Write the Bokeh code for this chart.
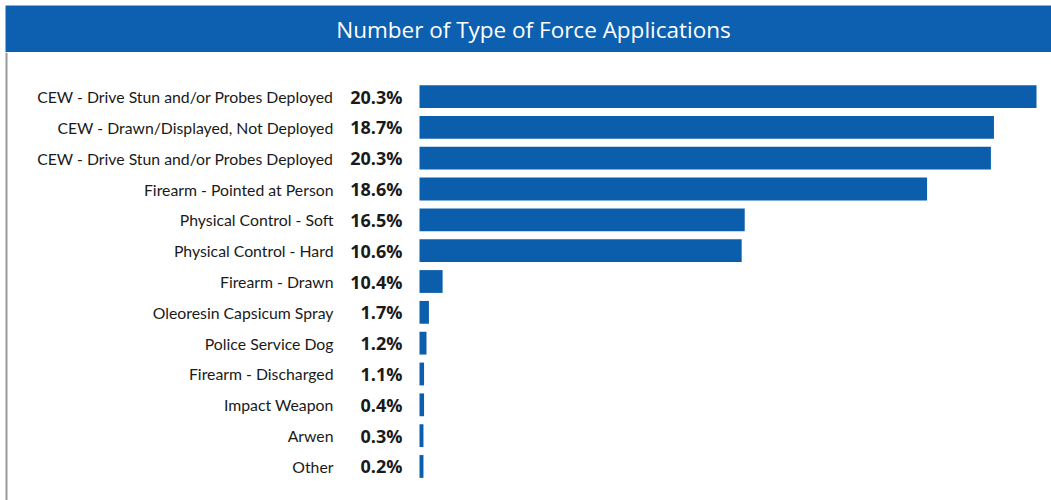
from bokeh.plotting import figure
from bokeh.models import ColumnDataSource, Range1d, Label, Span
from bokeh.layouts import column
from bokeh.embed import file_html
from bokeh.resources import INLINE
from bokeh.core.properties import value

# ---- data ----
categories = [
    "CEW - Drive Stun and/or Probes Deployed",
    "CEW - Drawn/Displayed, Not Deployed",
    "CEW - Drive Stun and/or Probes Deployed",
    "Firearm - Pointed at Person",
    "Physical Control - Soft",
    "Physical Control - Hard",
    "Firearm - Drawn",
    "Oleoresin Capsicum Spray",
    "Police Service Dog",
    "Firearm - Discharged",
    "Impact Weapon",
    "Arwen",
    "Other",
]
pct_labels = ["20.3%", "18.7%", "20.3%", "18.6%", "16.5%", "10.6%", "10.4%",
              "1.7%", "1.2%", "1.1%", "0.4%", "0.3%", "0.2%"]
bar_values = [20.3, 18.9, 18.8, 16.7, 10.7, 10.6, 0.76, 0.31, 0.23, 0.15, 0.15, 0.13, 0.13]
title_text = "Number of Type of Force Applications"

BLUE = "#0b5eab"
n = len(categories)
rows = list(range(n))

# ---- title bar ----
tf = figure(width=1046, height=47, x_range=Range1d(0, 1), y_range=Range1d(0, 1),
            x_axis_type=None, y_axis_type=None, toolbar_location=None,
            output_backend="svg", min_border=0, outline_line_color=None,
            background_fill_color="#0d60b0", border_fill_color="#0d60b0",
            margin=(5, 0, 0, 5))
tf.grid.visible = False
tf.add_layout(Label(x=0.5, y=0.5, x_offset=5, text=title_text, text_align="center",
                    text_baseline="middle", text_color="white",
                    text_font="Open Sans", text_font_size="22.5px"))

# ---- main chart ----
px_per_unit = 617 / 20.3
x_start = -419 / px_per_unit
x_end = (1051 - 419) / px_per_unit
row_px = 30.8
y_top = -44 / row_px
y_bottom = (n - 1) + (448 - 414) / row_px

p = figure(width=1051, height=448, x_range=Range1d(x_start, x_end),
           y_range=Range1d(y_bottom, y_top),
           x_axis_type=None, y_axis_type=None, toolbar_location=None,
           output_backend="svg", min_border=0, outline_line_color=None,
           background_fill_color="white", border_fill_color="white")
p.grid.visible = False

src = ColumnDataSource(dict(y=rows, v=bar_values, cat=categories, pct=pct_labels,
                            zero=[0] * n))

p.hbar(y="y", left="zero", right="v", height=0.74, source=src,
       fill_color=BLUE, line_color=None)

p.text(x="zero", y="y", text="cat", source=src, x_offset=-86,
       text_align="right", text_baseline="middle", text_color="#1a1a1a",
       text_font=value("Lato"), text_font_size="15.8px")
p.text(x="zero", y="y", text="pct", source=src, x_offset=-17,
       text_align="right", text_baseline="middle", text_color="#1a1a1a",
       text_font=value("Open Sans"), text_font_style="bold", text_font_size="18px")

p.add_layout(Span(location=x_start + 6 / px_per_unit, dimension="height",
                  line_color="#9a9a9a", line_width=2))

layout = column(tf, p, spacing=0)
open("out.html", "w").write(file_html(layout, INLINE))
